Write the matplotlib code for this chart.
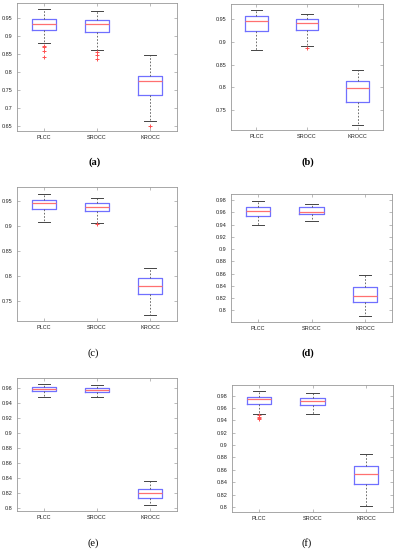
import matplotlib
matplotlib.use("Agg")
import matplotlib.pyplot as plt
from matplotlib.ticker import FixedLocator, FuncFormatter

metrics = ["PLCC", "SROCC", "KROCC"]
panel_labels = ["(a)", "(b)", "(c)", "(d)", "(e)", "(f)"]

# per panel, per metric: (whislo, q1, median, q3, whishi, fliers)
stats_a = [(0.882, 0.917, 0.933, 0.947, 0.975, [0.873, 0.870, 0.860, 0.843]),
           (0.861, 0.911, 0.933, 0.945, 0.969, [0.855, 0.849, 0.838]),
           (0.665, 0.738, 0.775, 0.790, 0.847, [0.652])]
stats_b = [(0.883, 0.925, 0.947, 0.958, 0.971, []),
           (0.892, 0.926, 0.943, 0.951, 0.963, [0.886]),
           (0.716, 0.767, 0.798, 0.815, 0.839, [])]
stats_c = [(0.909, 0.935, 0.946, 0.953, 0.965, []),
           (0.906, 0.931, 0.938, 0.947, 0.957, [0.905]),
           (0.722, 0.765, 0.781, 0.796, 0.816, [])]
stats_d = [(0.939, 0.954, 0.963, 0.969, 0.979, []),
           (0.946, 0.957, 0.961, 0.968, 0.974, []),
           (0.790, 0.814, 0.823, 0.838, 0.857, [])]
stats_e = [(0.949, 0.9565, 0.9595, 0.962, 0.966, []),
           (0.949, 0.9555, 0.958, 0.961, 0.9645, []),
           (0.8036, 0.814, 0.8206, 0.825, 0.836, [])]
stats_f = [(0.950, 0.9665, 0.974, 0.978, 0.9875, [0.948, 0.946, 0.944, 0.942]),
           (0.9505, 0.965, 0.971, 0.976, 0.984, []),
           (0.8016, 0.838, 0.854, 0.866, 0.885, [])]

ylims = [(0.637, 0.992), (0.706, 0.984), (0.710, 0.978),
         (0.781, 0.990), (0.796, 0.974), (0.792, 0.997)]
yticks = [[0.65, 0.7, 0.75, 0.8, 0.85, 0.9, 0.95],
          [0.75, 0.8, 0.85, 0.9, 0.95],
          [0.75, 0.8, 0.85, 0.9, 0.95],
          [0.8, 0.82, 0.84, 0.86, 0.88, 0.9, 0.92, 0.94, 0.96, 0.98],
          [0.8, 0.82, 0.84, 0.86, 0.88, 0.9, 0.92, 0.94, 0.96],
          [0.8, 0.82, 0.84, 0.86, 0.88, 0.9, 0.92, 0.94, 0.96, 0.98]]

all_stats = [stats_a, stats_b, stats_c, stats_d, stats_e, stats_f]

W, H = 397, 550
# pixel boxes: left, right, top, bottom
rects_px = [(17, 177, 3, 131), (231, 383, 4, 130),
            (17, 177, 187, 321), (231, 392, 194, 322),
            (17, 177, 378, 511), (232, 393, 385, 512)]
label_px = [(95, 162), (308, 162), (93, 353), (308, 353), (93, 543), (307, 543)]
label_weight = ["bold", "bold", "normal", "bold", "normal", "normal"]

fig = plt.figure(figsize=(W / 100, H / 100), dpi=100)
fig.patch.set_facecolor("white")

for i, (st, (l, r, t, b)) in enumerate(zip(all_stats, rects_px)):
    ax = fig.add_axes([l / W, 1 - b / H, (r - l) / W, (b - t) / H])
    bxs = []
    for name, s in zip(metrics, st):
        bxs.append(dict(label=name, whislo=s[0], q1=s[1], med=s[2], q3=s[3],
                        whishi=s[4], fliers=s[5]))
    ax.bxp(bxs, positions=[1, 2, 3], widths=0.45, showfliers=True,
           boxprops=dict(color="#7070ff", linewidth=0.9),
           medianprops=dict(color="#ff7070", linewidth=0.9),
           whiskerprops=dict(color="#555555", linewidth=0.6, linestyle=(0, (2, 2))),
           capprops=dict(color="#444444", linewidth=0.7),
           flierprops=dict(marker="+", markeredgecolor="#ff5050", markersize=3,
                           markeredgewidth=0.7, linestyle="none"))
    ax.set_xlim(0.5, 3.5)
    ax.set_ylim(*ylims[i])
    ax.yaxis.set_major_locator(FixedLocator(yticks[i]))
    ax.yaxis.set_major_formatter(FuncFormatter(lambda v, p: "%g" % round(v, 4)))
    ax.set_xticks([1, 2, 3])
    ax.set_xticklabels(metrics)
    ax.tick_params(axis="both", which="both", direction="in", length=2,
                   width=0.4, color="#888888", labelsize=4,
                   labelcolor="#222222", top=True, right=True, pad=3)
    for lab in ax.get_xticklabels() + ax.get_yticklabels():
        lab.set_fontfamily("Liberation Sans")
    for sp in ax.spines.values():
        sp.set_color("#999999")
        sp.set_linewidth(0.6)
    lx, ly = label_px[i]
    fig.text(lx / W, 1 - ly / H, panel_labels[i], ha="center", va="center",
             fontsize=7.5, fontweight=label_weight[i], family="Liberation Serif")

fig.savefig("out.png", dpi=100, facecolor="white")
